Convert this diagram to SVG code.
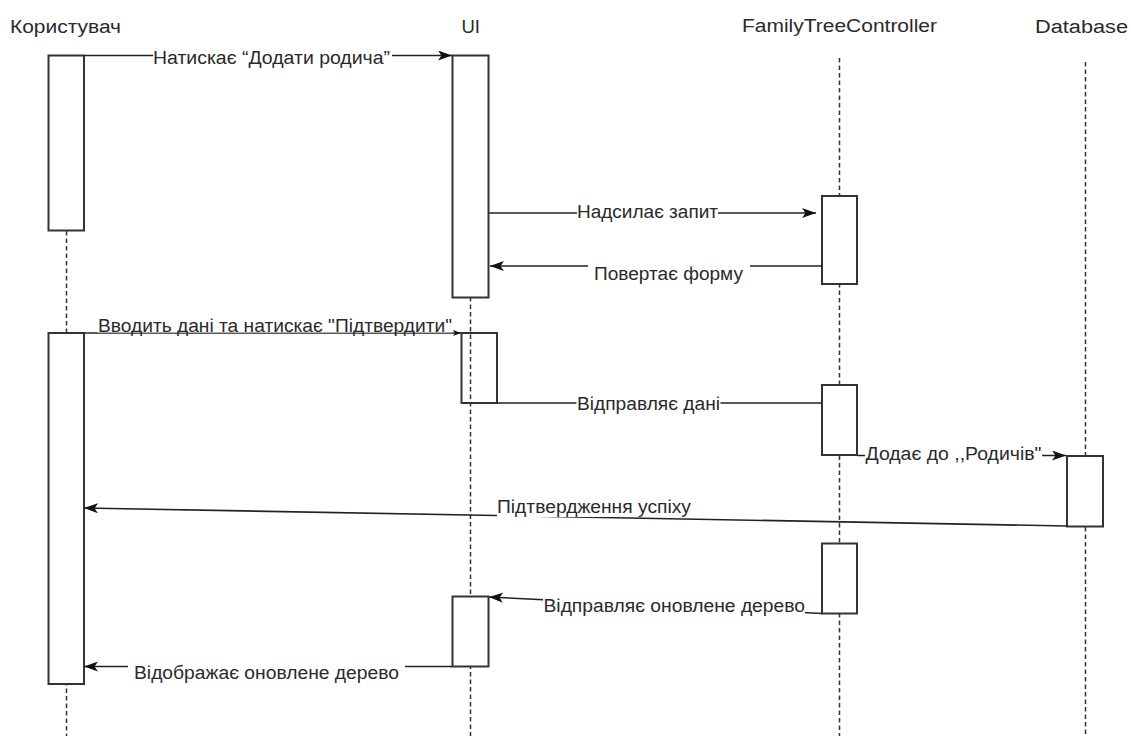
<svg xmlns="http://www.w3.org/2000/svg" width="1131" height="736" viewBox="0 0 1131 736">
  <style>
    .head { font-family: "Liberation Sans", Arial, sans-serif; font-size: 18px; fill: #2a2a2a; }
    .lbl { font-family: "Liberation Sans", Arial, sans-serif; font-size: 18px; fill: #2a2a2a; }
    .life { stroke: #333; stroke-width: 1.5; stroke-dasharray: 4.5 3; fill: none; }
    .act { fill: #fff; stroke: #333; stroke-width: 2; }
    .msg { stroke: #222; stroke-width: 1.6; fill: none; }
    .bg { fill: #fff; }
  </style>
  <defs>
    <marker id="arrow" markerUnits="userSpaceOnUse" markerWidth="16" markerHeight="12" refX="14" refY="5" orient="auto">
      <path d="M0,0 L14,5 L0,10 L3.5,5 Z" fill="#111"/>
    </marker>
    <marker id="arrow-small" markerUnits="userSpaceOnUse" markerWidth="10" markerHeight="8" refX="8" refY="3" orient="auto">
      <path d="M0,0 L8,3 L0,6 L2,3 Z" fill="#111"/>
    </marker>
  </defs>

  <rect width="1131" height="736" fill="#fff"/>

  <!-- Participant: user -->
  <g id="user">
    <text class="head" x="10" y="33" textLength="111" lengthAdjust="spacingAndGlyphs">Користувач</text>
    <line class="life" x1="66.5" y1="231" x2="66.5" y2="736"/>
    <rect class="act" x="48.5" y="55.5" width="35.5" height="175"/>
    <rect class="act" x="48.5" y="333" width="35.5" height="351"/>
  </g>

  <!-- Participant: UI -->
  <g id="ui">
    <text class="head" x="461.5" y="33" textLength="18.5" lengthAdjust="spacingAndGlyphs">UI</text>
    <rect class="act" x="461.5" y="333" width="35.5" height="70"/>
    <line class="life" x1="470.5" y1="297" x2="470.5" y2="736"/>
    <rect class="act" x="452.5" y="55.5" width="36" height="242"/>
    <rect class="act" x="452.5" y="596.5" width="36" height="70"/>
  </g>

  <!-- Participant: controller -->
  <g id="controller">
    <text class="head" x="742" y="32" textLength="195" lengthAdjust="spacingAndGlyphs">FamilyTreeController</text>
    <line class="life" x1="839.5" y1="58" x2="839.5" y2="736"/>
    <rect class="act" x="822" y="196" width="35" height="88"/>
    <rect class="act" x="822" y="385" width="35" height="70"/>
    <rect class="act" x="822" y="543.5" width="35" height="70"/>
  </g>

  <!-- Participant: database -->
  <g id="database">
    <text class="head" x="1035" y="33" textLength="93" lengthAdjust="spacingAndGlyphs">Database</text>
    <line class="life" x1="1085.5" y1="62" x2="1085.5" y2="736"/>
    <rect class="act" x="1067" y="456" width="36" height="70.5"/>
  </g>

  <!-- Messages -->
  <g id="connectors">
    <!-- 1 -->
    <line class="msg" x1="84" y1="55.5" x2="452" y2="55.5" marker-end="url(#arrow)"/>
    <rect class="bg" x="153" y="48" width="239" height="20"/>
    <text class="lbl" x="153" y="64" textLength="237" lengthAdjust="spacingAndGlyphs">Натискає “Додати родича”</text>

    <!-- 2 -->
    <line class="msg" x1="489" y1="213" x2="816" y2="213" marker-end="url(#arrow)"/>
    <rect class="bg" x="577" y="203" width="141" height="19"/>
    <text class="lbl" x="577" y="217.5" textLength="141" lengthAdjust="spacingAndGlyphs">Надсилає запит</text>

    <!-- 3 -->
    <line class="msg" x1="822" y1="266" x2="490" y2="266" marker-end="url(#arrow)"/>
    <rect class="bg" x="588" y="262" width="162" height="24"/>
    <text class="lbl" x="594" y="279.5" textLength="149" lengthAdjust="spacingAndGlyphs">Повертає форму</text>

    <!-- 4 -->
    <line class="msg" x1="84" y1="333" x2="461" y2="333" marker-end="url(#arrow-small)"/>
    <rect class="bg" x="97.5" y="314" width="355" height="18.5"/>
    <text class="lbl" x="98" y="332" textLength="354" lengthAdjust="spacingAndGlyphs">Вводить дані та натискає "Підтвердити"</text>

    <!-- 5 -->
    <line class="msg" x1="497" y1="403" x2="822" y2="403"/>
    <rect class="bg" x="576.5" y="394" width="144" height="20"/>
    <text class="lbl" x="577" y="410" textLength="143" lengthAdjust="spacingAndGlyphs">Відправляє дані</text>

    <!-- 6 -->
    <line class="msg" x1="857" y1="455.5" x2="1066" y2="455.5" marker-end="url(#arrow)"/>
    <rect class="bg" x="865" y="444" width="177" height="20"/>
    <text class="lbl" x="865.5" y="459.5" textLength="176" lengthAdjust="spacingAndGlyphs">Додає до ,,Родичів"</text>

    <!-- 7 -->
    <line class="msg" x1="1067" y1="526" x2="84" y2="508" marker-end="url(#arrow)"/>
    <rect class="bg" x="497" y="498" width="194" height="19"/>
    <text class="lbl" x="497" y="513" textLength="194" lengthAdjust="spacingAndGlyphs">Підтвердження успіху</text>

    <!-- 8 -->
    <line class="msg" x1="822" y1="613.5" x2="489" y2="597" marker-end="url(#arrow)"/>
    <rect class="bg" x="543" y="597" width="262" height="25"/>
    <text class="lbl" x="543.5" y="612" textLength="261.5" lengthAdjust="spacingAndGlyphs">Відправляє оновлене дерево</text>

    <!-- 9 -->
    <line class="msg" x1="452" y1="666.5" x2="84" y2="666.5" marker-end="url(#arrow)"/>
    <rect class="bg" x="128" y="662" width="277" height="24"/>
    <text class="lbl" x="134" y="678.5" textLength="265" lengthAdjust="spacingAndGlyphs">Відображає оновлене дерево</text>
  </g>
</svg>
